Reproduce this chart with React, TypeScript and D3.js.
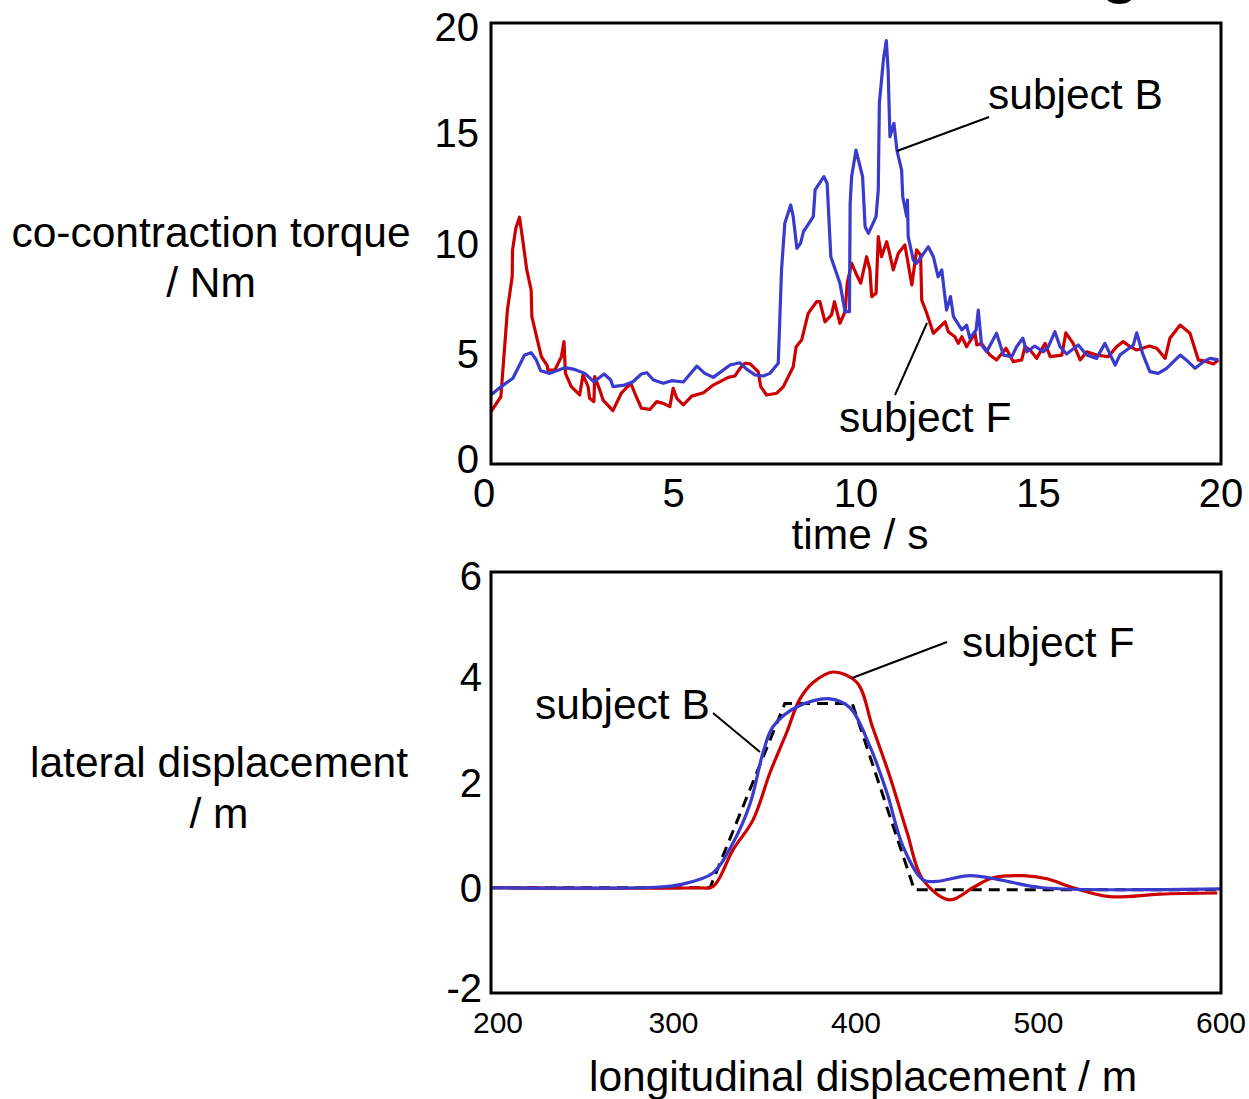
import * as d3 from 'd3'

const W = 1249
const H = 1099
const FONT = '"Liberation Sans", Arial, Helvetica, sans-serif'
const RED = '#cc0000'
const BLUE = '#3a3acc'

// top panel: co-contraction torque over time
const TIME_TICKS = [0, 5, 10, 15, 20]
const TORQUE_TICKS = [0, 5, 10, 15, 20]

const F_TIME = [
  0, 0.27, 0.45, 0.58, 0.59, 0.68, 0.78, 0.87, 0.98, 1.1, 1.12, 1.25, 1.38, 1.54, 1.56, 1.75, 1.93, 2.0, 2.04, 2.2,
  2.43, 2.52, 2.66, 2.7, 2.82, 2.84, 2.98, 3.07, 3.34, 3.57, 3.83, 3.98, 4.12, 4.36, 4.54, 4.72, 4.9, 4.99, 5.09, 5.27,
  5.5, 5.82, 6.09, 6.5, 6.68, 6.82, 6.96, 7.1, 7.32, 7.39, 7.55, 7.83, 8.01, 8.28, 8.36, 8.51, 8.69, 8.92, 9.01, 9.15,
  9.33, 9.41, 9.56, 9.7, 9.76, 9.88, 10.02, 10.13, 10.29, 10.38, 10.43, 10.55, 10.61, 10.7, 10.84, 10.91, 11.02, 11.16, 11.34, 11.53,
  11.66, 11.77, 11.8, 11.94, 12.12, 12.44, 12.53, 12.71, 12.8, 12.9, 13.03, 13.26, 13.31, 13.44, 13.67, 13.85, 14.11, 14.31, 14.54, 14.63,
  14.77, 14.95, 15.18, 15.32, 15.64, 15.75, 15.95, 16.14, 16.32, 16.59, 16.91, 17.14, 17.32, 17.51, 17.69, 18.05, 18.24, 18.47, 18.6, 18.88,
  19.15, 19.38, 19.61, 19.79, 19.93,
]
const F_TORQUE = [
  2.37, 3.05, 6.98, 8.49, 9.71, 10.69, 11.19, 10.16, 8.8, 7.89, 6.68, 5.77, 4.87, 4.46, 4.26, 4.26, 4.87, 5.55, 4.11, 3.51,
  3.13, 4.04, 3.51, 2.98, 2.83, 3.96, 3.36, 2.9, 2.42, 3.21, 3.66, 3.05, 2.53, 2.48, 2.83, 2.75, 2.6, 3.43, 2.98, 2.68,
  3.08, 3.23, 3.58, 3.93, 3.99, 4.34, 4.57, 4.54, 4.19, 3.51, 3.13, 3.21, 3.51, 4.41, 5.32, 5.62, 6.83, 7.36, 7.36, 6.45,
  6.76, 7.36, 6.38, 6.91, 8.2, 9.1, 8.57, 8.2, 9.4, 8.8, 7.59, 7.74, 10.31, 9.4, 10.08, 9.63, 8.8, 9.56, 9.93, 8.12,
  9.71, 9.48, 7.44, 6.83, 5.93, 6.45, 6.0, 5.77, 5.47, 5.77, 5.32, 5.93, 5.4, 5.47, 4.94, 4.72, 5.25, 4.64, 4.72, 5.32,
  5.17, 4.79, 5.47, 4.87, 4.94, 5.95, 5.47, 4.72, 5.09, 4.94, 4.87, 5.32, 5.55, 5.32, 5.17, 5.35, 5.25, 4.79, 5.7, 6.3,
  5.93, 4.72, 4.64, 4.54, 4.72,
]

const B_TIME = [
  0, 0.28, 0.6, 0.92, 1.1, 1.24, 1.36, 1.61, 2.02, 2.29, 2.57, 2.82, 3.1, 3.28, 3.34, 3.66, 3.89, 4.12, 4.27, 4.45,
  4.72, 4.95, 5.27, 5.64, 5.86, 6.09, 6.55, 6.82, 7.01, 7.23, 7.46, 7.64, 7.87, 7.96, 8.05, 8.21, 8.28, 8.38, 8.48, 8.56,
  8.83, 8.88, 9.12, 9.21, 9.31, 9.56, 9.7, 9.82, 9.84, 9.88, 10.0, 10.18, 10.25, 10.34, 10.55, 10.61, 10.64, 10.75, 10.83, 10.88,
  10.93, 11.04, 11.12, 11.25, 11.28, 11.39, 11.41, 11.43, 11.57, 11.66, 11.98, 12.12, 12.25, 12.35, 12.48, 12.59, 12.67, 12.9, 13.03, 13.12,
  13.29, 13.35, 13.44, 13.58, 13.85, 14.04, 14.27, 14.4, 14.57, 14.68, 14.9, 15.13, 15.27, 15.45, 15.59, 15.77, 16.09, 16.32, 16.59, 16.82,
  17.1, 17.23, 17.6, 17.69, 17.85, 18.05, 18.28, 18.51, 18.88, 19.05, 19.29, 19.52, 19.7, 19.93,
]
const B_TORQUE = [
  3.13, 3.51, 3.89, 4.94, 5.05, 4.72, 4.23, 4.11, 4.37, 4.29, 4.11, 3.73, 4.08, 3.81, 3.51, 3.58, 3.73, 4.08, 4.14, 3.81,
  3.66, 3.78, 3.72, 4.44, 4.11, 3.93, 4.49, 4.59, 4.29, 4.04, 3.99, 4.11, 4.57, 8.8, 10.92, 11.75, 11.22, 9.78, 10.01, 10.54,
  11.22, 12.43, 13.03, 12.73, 9.4, 8.2, 6.91, 6.91, 11.82, 13.03, 14.24, 13.03, 10.76, 10.46, 11.22, 12.43, 16.36, 18.32, 19.2, 17.87,
  14.84, 15.45, 14.24, 13.33, 12.12, 11.22, 11.97, 10.31, 9.25, 9.1, 9.85, 9.4, 8.49, 8.8, 6.98, 7.59, 6.68, 6.08, 6.3, 5.7,
  6.08, 6.98, 5.4, 5.09, 5.93, 4.94, 4.87, 5.32, 5.7, 5.09, 5.35, 5.09, 5.32, 6.0, 5.32, 4.99, 5.4, 4.94, 4.79, 5.47,
  4.49, 4.94, 5.4, 5.95, 5.02, 4.19, 4.11, 4.34, 4.94, 4.72, 4.34, 4.64, 4.79, 4.72,
]

// bottom panel: lane change trajectory
const LONG_TICKS = [200, 300, 400, 500, 600]
const LAT_TICKS = [-2, 0, 2, 4, 6]

const REF_LONG = [200, 320, 361, 398, 432, 600]
const REF_LAT = [0, 0, 3.5, 3.5, -0.04, -0.04]

const F_LONG = [200, 313, 321.6, 332.6, 343.6, 352.9, 362, 369, 376.5, 387.6, 400.5, 409, 418.6, 428, 436.7, 451.5, 464, 475, 491.5, 504.6, 519, 539, 566.6, 598]
const F_LAT = [0, 0, 0.02, 0.72, 1.29, 2.19, 2.95, 3.57, 3.9, 4.1, 3.9, 3.06, 2.11, 1.05, 0.15, -0.23, 0, 0.19, 0.23, 0.17, 0, -0.17, -0.12, -0.1]

const B_LONG = [200, 290, 303.6, 321.6, 332.6, 342, 349, 354.5, 367.7, 385.8, 396.7, 407.7, 417, 425.8, 436.7, 444, 462.5, 479, 502, 600]
const B_LAT = [0, 0.01, 0.06, 0.28, 0.85, 1.6, 2.56, 3.06, 3.44, 3.59, 3.42, 2.68, 1.8, 0.78, 0.15, 0.12, 0.23, 0.15, 0.0, -0.02]

const zip = (xs: number[], ys: number[]) => xs.map((x, i) => [x, ys[i]] as [number, number])

// end labels are nudged inwards so they stay inside the frame's span
const nudgeY = (v: number, lo: number, hi: number) => (v === lo ? -5 : v === hi ? 4 : 0)

export default function App() {
  // panel boxes
  const top = { l: 491, r: 1221, t: 23, b: 464 }
  const bot = { l: 491, r: 1221, t: 572, b: 993 }

  const xTime = d3.scaleLinear().domain([0, 20]).range([top.l, top.r])
  const yTorque = d3.scaleLinear().domain([0, 20]).range([top.b, top.t])
  const xLong = d3.scaleLinear().domain([200, 600]).range([bot.l, bot.r])
  const yLat = d3.scaleLinear().domain([-2, 6]).range([bot.b, bot.t])

  const torqueLine = d3.line<[number, number]>()
    .x(d => xTime(d[0]))
    .y(d => yTorque(d[1]))

  const smooth = d3.line<[number, number]>()
    .x(d => xLong(d[0]))
    .y(d => yLat(d[1]))
    .curve(d3.curveCatmullRom.alpha(0.5))

  const straight = d3.line<[number, number]>()
    .x(d => xLong(d[0]))
    .y(d => yLat(d[1]))

  const txt = { fontFamily: FONT, fill: '#000' }
  const TITLE = 42.5
  const TICK = 40

  return (
    <div style={{ position: 'absolute', left: 0, top: 0 }}>
      <svg width={W} height={H} viewBox={`0 0 ${W} ${H}`} style={{ display: 'block', background: '#fff' }}>
        {/* clipped glyph from a title above the figure */}
        <text x={1120} y={-9} textAnchor="middle" fontSize={62} fontWeight="bold" {...txt}>g</text>

        {/* ---------- top panel ---------- */}
        <path d={torqueLine(zip(F_TIME, F_TORQUE)) ?? ''} fill="none" stroke={RED} strokeWidth={3.2} strokeLinejoin="round" />
        <path d={torqueLine(zip(B_TIME, B_TORQUE)) ?? ''} fill="none" stroke={BLUE} strokeWidth={3.2} strokeLinejoin="round" />
        <rect x={top.l} y={top.t} width={top.r - top.l} height={top.b - top.t} fill="none" stroke="#000" strokeWidth={3} />

        {TORQUE_TICKS.map(v => (
          <text key={v} x={479} y={yTorque(v) + nudgeY(v, 0, 20)} textAnchor="end" dominantBaseline="central" fontSize={TICK} {...txt}>{v}</text>
        ))}
        {TIME_TICKS.map(v => (
          <text key={v} x={xTime(v) - (v === 0 ? 7 : 0)} y={493} textAnchor="middle" dominantBaseline="central" fontSize={TICK} {...txt}>{v}</text>
        ))}
        <text x={860} y={549} textAnchor="middle" fontSize={TITLE} {...txt}>time / s</text>
        <text x={211} y={247} textAnchor="middle" fontSize={TITLE} {...txt}>co-contraction torque</text>
        <text x={211} y={297} textAnchor="middle" fontSize={TITLE} {...txt}>/ Nm</text>

        <line x1={989} y1={117} x2={897} y2={151} stroke="#000" strokeWidth={2} />
        <text x={988} y={109} fontSize={TITLE} {...txt}>subject B</text>
        <line x1={927} y1={323} x2={895} y2={395} stroke="#000" strokeWidth={2} />
        <text x={839} y={432} fontSize={TITLE} {...txt}>subject F</text>

        {/* ---------- bottom panel ---------- */}
        <path d={straight(zip(REF_LONG, REF_LAT)) ?? ''} fill="none" stroke="#000" strokeWidth={3} strokeDasharray="11 7" />
        <path d={smooth(zip(F_LONG, F_LAT)) ?? ''} fill="none" stroke={RED} strokeWidth={3.2} />
        <path d={smooth(zip(B_LONG, B_LAT)) ?? ''} fill="none" stroke={BLUE} strokeWidth={3.2} />
        <rect x={bot.l} y={bot.t} width={bot.r - bot.l} height={bot.b - bot.t} fill="none" stroke="#000" strokeWidth={3} />

        {LAT_TICKS.map(v => (
          <text key={v} x={482} y={yLat(v) + nudgeY(v, -2, 6)} textAnchor="end" dominantBaseline="central" fontSize={TICK} {...txt}>{v}</text>
        ))}
        {LONG_TICKS.map(v => (
          <text key={v} x={v === 200 ? xLong(v) + 7 : xLong(v)} y={1022} textAnchor="middle" dominantBaseline="central" fontSize={30} {...txt}>{v}</text>
        ))}
        <text x={863} y={1091} textAnchor="middle" fontSize={TITLE} {...txt}>longitudinal displacement / m</text>
        <text x={219} y={777} textAnchor="middle" fontSize={TITLE} {...txt}>lateral displacement</text>
        <text x={219} y={828} textAnchor="middle" fontSize={TITLE} {...txt}>/ m</text>

        <line x1={947} y1={642} x2={852} y2={678} stroke="#000" strokeWidth={2} />
        <text x={962} y={657} fontSize={TITLE} {...txt}>subject F</text>
        <line x1={713} y1={713} x2={760} y2={752} stroke="#000" strokeWidth={2} />
        <text x={535} y={719} fontSize={TITLE} {...txt}>subject B</text>
      </svg>
    </div>
  )
}
